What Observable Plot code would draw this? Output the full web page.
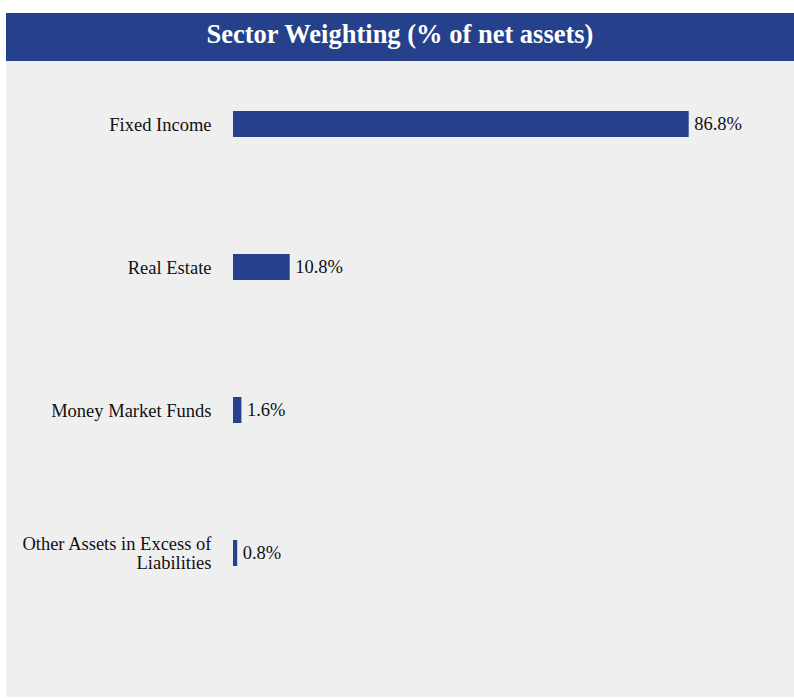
<!DOCTYPE html>
<html>
<head>
<meta charset="utf-8">
<script src="https://cdn.jsdelivr.net/npm/d3@7"></script>
<script src="https://cdn.jsdelivr.net/npm/@observablehq/plot@0.6"></script>
<style>
  html, body { margin: 0; padding: 0; background: #ffffff; }
  #wrap { position: absolute; left: 6px; top: 13px; width: 788px; }
  #title {
    height: 48px; background: #26418b; color: #ffffff;
    font-family: "Liberation Serif", "Times New Roman", serif;
    font-weight: bold; font-size: 26.5px; line-height: 42px; text-align: center;
  }
  #chart { background: #efefef; height: 636px; }
  #chart svg { display: block; }
</style>
</head>
<body>
<div id="wrap">
  <div id="title">Sector Weighting (% of net assets)</div>
  <div id="chart"></div>
</div>
<script>
const categories = ["Fixed Income", "Real Estate", "Money Market Funds", "Other Assets in Excess of Liabilities"];
const values = [86.8, 10.8, 1.6, 0.8];
const tickLabels = ["Fixed Income", "Real Estate", "Money Market Funds", "Other Assets in Excess of\nLiabilities"];

const data = categories.map((c, i) => ({category: c, value: values[i]}));
const labelOf = new Map(categories.map((c, i) => [c, tickLabels[i]]));

const chart = Plot.plot({
  width: 788,
  height: 636,
  marginLeft: 227,
  marginRight: 36,
  marginTop: 50,
  marginBottom: 130,
  style: {background: "transparent", fontFamily: "Liberation Serif, Times New Roman, serif", fontSize: "18.5px", color: "#111"},
  x: {domain: [0, 100], axis: null},
  y: {domain: categories, paddingInner: 0.818, paddingOuter: 0, label: null},
  marks: [
    Plot.axisY({tickSize: 0, tickPadding: 22, tickFormat: d => labelOf.get(d), fontSize: 18.5, lineHeight: 1.05, fill: "#111", label: null}),
    Plot.barX(data, {x: "value", y: "category", fill: "#26418b"}),
    Plot.text(data, {x: "value", y: "category", text: d => d.value.toFixed(1) + "%", textAnchor: "start", dx: 5, fontSize: 18.5, fill: "#111"})
  ]
});
document.getElementById("chart").appendChild(chart);
</script>
</body>
</html>
